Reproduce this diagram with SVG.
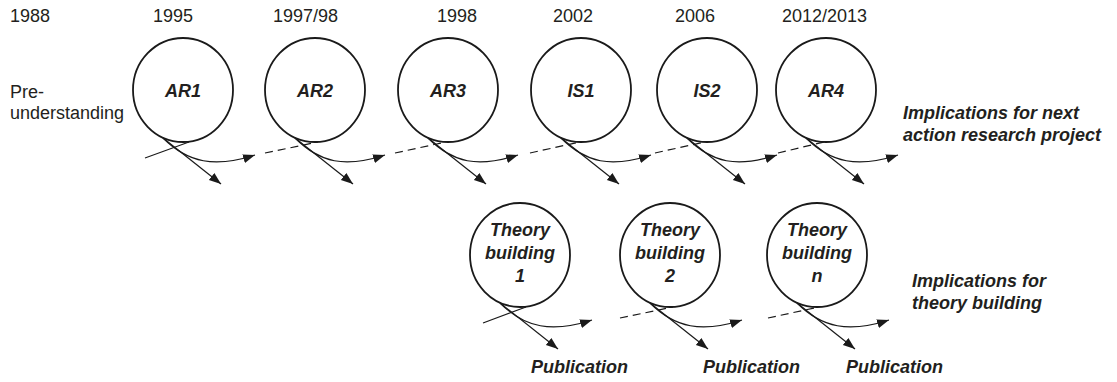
<svg xmlns="http://www.w3.org/2000/svg" width="1117" height="382" viewBox="0 0 1117 382">
<defs>
<style>
.c{fill:#fff;stroke:#1a1a1a;stroke-width:1.8}
.t{font-family:"Liberation Sans",Arial,sans-serif;font-size:18px;fill:#231f20}
.b{font-family:"Liberation Sans",Arial,sans-serif;font-size:18px;font-weight:bold;font-style:italic;fill:#231f20}
.m{text-anchor:middle}
.l{fill:none;stroke:#1a1a1a;stroke-width:1.2}
.a{marker-end:url(#ah)}
.d{stroke-dasharray:8 5}
</style>
<marker id="ah" markerUnits="userSpaceOnUse" markerWidth="13" markerHeight="10" refX="12" refY="4.5" orient="auto">
<path d="M0,0 L12,4.5 L0,9 z" fill="#1a1a1a"/>
</marker>
</defs>
<g id="years">
<text class="t" x="10" y="22">1988</text>
<text class="t" x="153" y="22">1995</text>
<text class="t" x="273" y="22">1997/98</text>
<text class="t" x="437" y="22">1998</text>
<text class="t" x="553" y="22">2002</text>
<text class="t" x="675" y="22">2006</text>
<text class="t" x="782" y="22">2012/2013</text>
</g>
<g id="preunderstanding">
<text class="t" x="10" y="98">Pre-</text>
<text class="t" x="10" y="119">understanding</text>
</g>
<g id="AR1"><ellipse class="c" cx="183" cy="90" rx="50" ry="52"/><text class="b m" x="183" y="97">AR1</text></g>
<g id="AR2"><ellipse class="c" cx="315" cy="90" rx="50" ry="52"/><text class="b m" x="315" y="97">AR2</text></g>
<g id="AR3"><ellipse class="c" cx="448" cy="90" rx="50" ry="52"/><text class="b m" x="448" y="97">AR3</text></g>
<g id="IS1"><ellipse class="c" cx="581" cy="90" rx="50" ry="52"/><text class="b m" x="581" y="97">IS1</text></g>
<g id="IS2"><ellipse class="c" cx="707" cy="90" rx="50" ry="52"/><text class="b m" x="707" y="97">IS2</text></g>
<g id="AR4"><ellipse class="c" cx="826" cy="90" rx="50" ry="52"/><text class="b m" x="826" y="97">AR4</text></g>
<g id="TB1"><ellipse class="c" cx="520" cy="255" rx="50" ry="52"/><text class="b m" x="520" y="236">Theory</text><text class="b m" x="520" y="259">building</text><text class="b m" x="520" y="282">1</text></g>
<g id="TB2"><ellipse class="c" cx="670" cy="255" rx="50" ry="52"/><text class="b m" x="670" y="236">Theory</text><text class="b m" x="670" y="259">building</text><text class="b m" x="670" y="282">2</text></g>
<g id="TBn"><ellipse class="c" cx="817" cy="255" rx="50" ry="52"/><text class="b m" x="817" y="236">Theory</text><text class="b m" x="817" y="259">building</text><text class="b m" x="817" y="282">n</text></g>
<g id="implications-ar">
<text class="b" x="903" y="119">Implications for next</text>
<text class="b" x="903" y="141">action research project</text>
</g>
<g id="implications-tb">
<text class="b" x="912" y="287">Implications for</text>
<text class="b" x="912" y="309">theory building</text>
</g>
<g id="publications">
<text class="b" x="531" y="373">Publication</text>
<text class="b" x="703" y="373">Publication</text>
<text class="b" x="846" y="373">Publication</text>
</g>
<g id="connectors">
<!-- top row -->
<path class="l" d="M145,158 L189,142"/>
<path class="l a" d="M163,138 L221,184"/>
<path class="l a" d="M163,138 C188,163 215,168 255,155"/>

<path class="l d" d="M265,153 L318,142"/>
<path class="l a" d="M295,138 L353,184"/>
<path class="l a" d="M295,138 C320,163 345,168 385,155"/>

<path class="l d" d="M395,153 L446,142"/>
<path class="l a" d="M428,138 L486,184"/>
<path class="l a" d="M428,138 C453,163 478,168 518,155"/>

<path class="l d" d="M530,153 L580,142"/>
<path class="l a" d="M561,138 L619,184"/>
<path class="l a" d="M561,138 C586,163 611,168 651,155"/>

<path class="l d" d="M655,153 L705,142"/>
<path class="l a" d="M687,138 L745,184"/>
<path class="l a" d="M687,138 C712,163 737,168 777,155"/>

<path class="l d" d="M778,153 L824,142"/>
<path class="l a" d="M806,138 L864,184"/>
<path class="l a" d="M806,138 C831,163 858,168 898,155"/>
<!-- bottom row -->
<path class="l" d="M483,323 L526,307"/>
<path class="l a" d="M500,303 L558,349"/>
<path class="l a" d="M500,303 C525,328 552,333 592,320"/>

<path class="l d" d="M620,318 L673,307"/>
<path class="l a" d="M650,303 L708,349"/>
<path class="l a" d="M650,303 C675,328 702,333 742,320"/>

<path class="l d" d="M768,318 L819,307"/>
<path class="l a" d="M797,303 L855,349"/>
<path class="l a" d="M797,303 C822,328 849,333 889,320"/>
</g>
</svg>
